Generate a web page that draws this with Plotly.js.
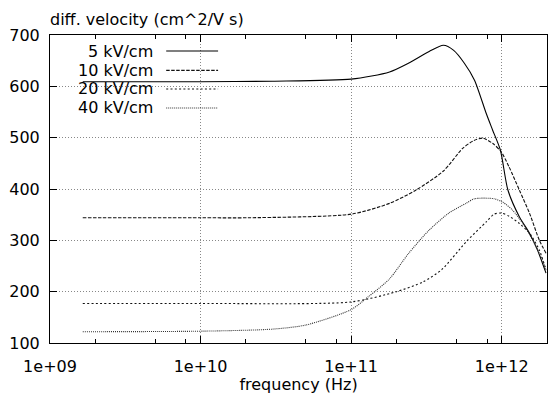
<!DOCTYPE html>
<html><head><meta charset="utf-8">
<script src="https://cdn.plot.ly/plotly-3.0.1.min.js"></script>
<style>html,body{margin:0;padding:0;background:#fff}#chart{width:548px;height:394px}</style>
</head><body><div id="chart"></div>
<script>
const seriesNames = ['5 kV/cm', '10 kV/cm', '20 kV/cm', '40 kV/cm'];

const freq5 = [1.65e9, 1e10, 3e10, 1e11, 1.8e11, 2.4e11, 3.3e11, 4.1e11, 4.8e11, 5.65e11, 6.6e11, 7.9e11, 8.7e11, 9.8e11, 1.1e12, 1.31e12, 1.53e12, 1.73e12, 1.97e12];
const vel5  = [609, 609, 610, 614, 628, 645, 668, 680, 670, 645, 612, 547, 515, 476, 398, 346, 314, 281, 236];

const freq10 = [1.65e9, 1e10, 2.1e10, 1e11, 1.8e11, 2.7e11, 4.1e11, 5.5e11, 6.5e11, 7.5e11, 8.7e11, 9.9e11, 1.12e12, 1.31e12, 1.53e12, 1.78e12, 1.97e12];
const vel10  = [344, 344, 344, 351, 372, 398, 435, 479, 494, 499, 489, 473, 443, 398, 353, 300, 275];

const freq20 = [1.65e9, 1e10, 1e11, 2e11, 3e11, 4e11, 5.8e11, 7.9e11, 8.9e11, 1e12, 1.12e12, 1.31e12, 1.53e12, 1.78e12, 1.97e12];
const vel20  = [177, 177, 180, 200, 219, 243, 297, 336, 351, 353, 347, 333, 314, 281, 242];

const freq40 = [1.65e9, 1e10, 3e10, 5e10, 1e11, 1.3e11, 1.8e11, 2.4e11, 3.3e11, 4.5e11, 5.8e11, 6.6e11, 8.9e11, 1.02e12, 1.18e12, 1.38e12, 1.61e12, 1.83e12, 1.97e12];
const vel40  = [122, 123, 127, 135, 165, 190, 225, 274, 320, 354, 372, 381, 381, 374, 359, 333, 300, 268, 242];

const xTickVals = [1e9, 1e10, 1e11, 1e12];
const xTickText = ['1e+09', '1e+10', '1e+11', '1e+12'];
const xMinorVals = [2e9, 5e9, 8e9, 2e10, 5e10, 8e10, 2e11, 5e11, 8e11];
const yTickVals = [100, 200, 300, 400, 500, 600, 700];

const FONT = 'DejaVu Sans';
const dashes = ['solid', '3.5px,1.5px', '2px,2.3px', '1px,1px'];
const colors = ['#000000', '#111111', '#111111', '#333333'];
const xs = [freq5, freq10, freq20, freq40];
const ys = [vel5, vel10, vel20, vel40];

const traces = seriesNames.map((n, i) => ({
  x: xs[i], y: ys[i], name: n, type: 'scatter', mode: 'lines',
  line: {color: colors[i], width: 1.1, dash: dashes[i], shape: 'spline', smoothing: 0.7}
}));

// manual legend (text right-aligned, sample to the right)
const legRowY = [0.948, 0.885, 0.8247, 0.763];
const annotations = seriesNames.map((n, i) => ({
  text: n, xref: 'paper', yref: 'paper', x: 0.2106, y: legRowY[i],
  xanchor: 'right', yanchor: 'middle', showarrow: false,
  font: {family: FONT, size: 16, color: '#000'}
}));
const shapes = [
  {type: 'rect', xref: 'paper', yref: 'paper', x0: 0.0232, x1: 0.3605, y0: 0.7305, y1: 0.972,
   fillcolor: '#ffffff', line: {width: 0}, layer: 'between'}
];
seriesNames.forEach((n, i) => shapes.push({
  type: 'line', xref: 'paper', yref: 'paper', x0: 0.2338, x1: 0.3382, y0: legRowY[i], y1: legRowY[i],
  line: {color: colors[i], width: 1.1, dash: dashes[i]}
}));

const axisCommon = {
  showline: true, linecolor: '#000', linewidth: 1, mirror: 'ticks',
  ticks: 'inside', ticklen: 7, tickwidth: 1, tickcolor: '#000',
  showgrid: true, gridcolor: '#888', griddash: '1px,2px', gridwidth: 1,
  zeroline: false, tickfont: {family: FONT, size: 16, color: '#000'}
};

const layout = {
  width: 548, height: 394,
  margin: {l: 50, r: 1, t: 35, b: 51},
  paper_bgcolor: '#fff', plot_bgcolor: '#fff',
  showlegend: false,
  title: {text: 'diff. velocity (cm^2/V s)', x: 50 / 548, xanchor: 'left', xref: 'container',
          y: 1 - 19 / 394, yanchor: 'middle', yref: 'container',
          font: {family: FONT, size: 16, color: '#000'}},
  xaxis: Object.assign({}, axisCommon, {
    type: 'log', range: [9, Math.log10(2e12)],
    tickmode: 'array', tickvals: xTickVals, ticktext: xTickText,
    ticklabelstandoff: 9,
    minor: {tickmode: 'array', tickvals: xMinorVals, ticks: 'inside', ticklen: 4, tickcolor: '#000', showgrid: false},
    title: {text: 'frequency (Hz)', standoff: 0, font: {family: FONT, size: 16, color: '#000'}}
  }),
  yaxis: Object.assign({}, axisCommon, {
    range: [100, 700], tickmode: 'array', tickvals: yTickVals,
    ticklabelstandoff: 6
  }),
  annotations: annotations,
  shapes: shapes
};

Plotly.newPlot('chart', traces, layout, {staticPlot: true, displayModeBar: false});
</script>
</body></html>
